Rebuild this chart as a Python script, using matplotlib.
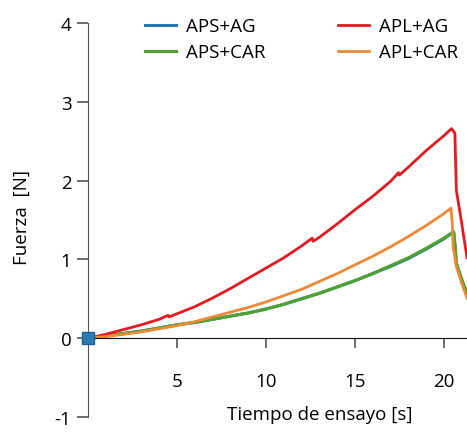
import matplotlib
matplotlib.use("Agg")
import matplotlib.pyplot as plt

plt.rcParams['font.family'] = ['Open Sans', 'DejaVu Sans']
plt.rcParams['axes.unicode_minus'] = False

# APS+AG (azul) y APS+CAR (verde) casi iguales
t_aps_ag = [0, 1, 2, 3, 4, 5, 6, 7, 8, 9, 10, 11, 12, 13, 14, 15, 16, 17, 18, 19, 20, 20.55, 20.62, 20.7, 21.0, 21.3]
f_aps_ag = [0, 0.03, 0.06, 0.09, 0.13, 0.17, 0.20, 0.24, 0.28, 0.32, 0.37, 0.43, 0.50, 0.57, 0.65, 0.73, 0.82, 0.91, 1.01, 1.13, 1.26, 1.35, 1.18, 0.95, 0.74, 0.56]
t_aps_car = [0, 1, 2, 3, 4, 5, 6, 7, 8, 9, 10, 11, 12, 13, 14, 15, 16, 17, 18, 19, 20, 20.55, 20.62, 20.7, 21.0, 21.3]
f_aps_car = [0, 0.03, 0.06, 0.09, 0.13, 0.17, 0.20, 0.24, 0.28, 0.32, 0.37, 0.43, 0.50, 0.57, 0.65, 0.73, 0.82, 0.92, 1.02, 1.14, 1.27, 1.35, 1.19, 0.95, 0.75, 0.57]

# APL+AG (rojo)
t_apl_ag = [0, 1, 2, 3, 4, 4.5, 4.55, 5, 6, 7, 8, 9, 10, 11, 12, 12.6, 12.65, 13, 14, 15, 16, 17, 17.45, 17.5, 18, 19, 20, 20.43, 20.62, 20.7, 21.0, 21.3]
f_apl_ag = [0, 0.05, 0.11, 0.17, 0.24, 0.29, 0.27, 0.31, 0.40, 0.51, 0.63, 0.76, 0.89, 1.02, 1.17, 1.27, 1.23, 1.28, 1.45, 1.63, 1.80, 1.99, 2.10, 2.07, 2.17, 2.38, 2.57, 2.66, 2.60, 1.88, 1.46, 1.02]

# APL+CAR (naranja)
t_apl_car = [0, 1, 2, 3, 4, 5, 6, 7, 8, 9, 10, 11, 12, 13, 14, 15, 16, 17, 18, 19, 20, 20.39, 20.46, 20.52, 20.7, 21.0, 21.3]
f_apl_car = [0, 0.02, 0.05, 0.08, 0.12, 0.16, 0.21, 0.27, 0.33, 0.39, 0.46, 0.54, 0.62, 0.72, 0.82, 0.93, 1.04, 1.16, 1.29, 1.43, 1.58, 1.65, 1.50, 1.16, 0.91, 0.70, 0.51]

fig = plt.figure(figsize=(4.67, 4.35), dpi=100)
ax = fig.add_axes([88 / 467, 17 / 435, 1 - 88 / 467, 394 / 435])

ax.plot(t_aps_ag, f_aps_ag, color="#2677b0", lw=2.2, label="APS+AG")
ax.plot(t_aps_car, f_aps_car, color="#4ea22f", lw=2.2, label="APS+CAR")
ax.plot(t_apl_ag, f_apl_ag, color="#e21b23", lw=2.0, label="APL+AG")
ax.plot(t_apl_car, f_apl_car, color="#ee8a35", lw=2.0, label="APL+CAR")
ax.plot([0], [0], marker="s", ms=9, color="#2b7ab2", mec="#1d5f8f", clip_on=False, zorder=5)

ax.set_xlim(0, 21.3)
ax.set_ylim(-1, 4)

for s in ["top", "right"]:
    ax.spines[s].set_visible(False)
ax.spines["bottom"].set_position(("data", 0))
ax.spines["bottom"].set_color("#111111")
ax.spines["left"].set_color("#555555")
ax.spines["left"].set_bounds(-1, 4)

ax.set_xticks([5, 10, 15, 20])
ax.set_yticks([-1, 0, 1, 2, 3, 4])
ax.tick_params(axis="x", length=7.5, width=1.2, color="#555555", pad=17, labelsize=13.5)
ax.tick_params(axis="y", length=8, width=1.2, color="#555555", pad=4, labelsize=13.5)

fig.text(22 / 467, 1 - 218 / 435, "Fuerza  [N]", rotation=90, ha="center", va="center", fontsize=13.5)
fig.text(320 / 467, 1 - 415 / 435, "Tiempo de ensayo [s]", ha="center", va="center", fontsize=13.5)

ax.legend(ncol=2, frameon=False, loc="upper left", bbox_to_anchor=(0.105, 1.057),
          fontsize=13.5, handlelength=1.65, handletextpad=0.55, columnspacing=3.85,
          labelspacing=0.42)

fig.savefig("out.png", dpi=100)
